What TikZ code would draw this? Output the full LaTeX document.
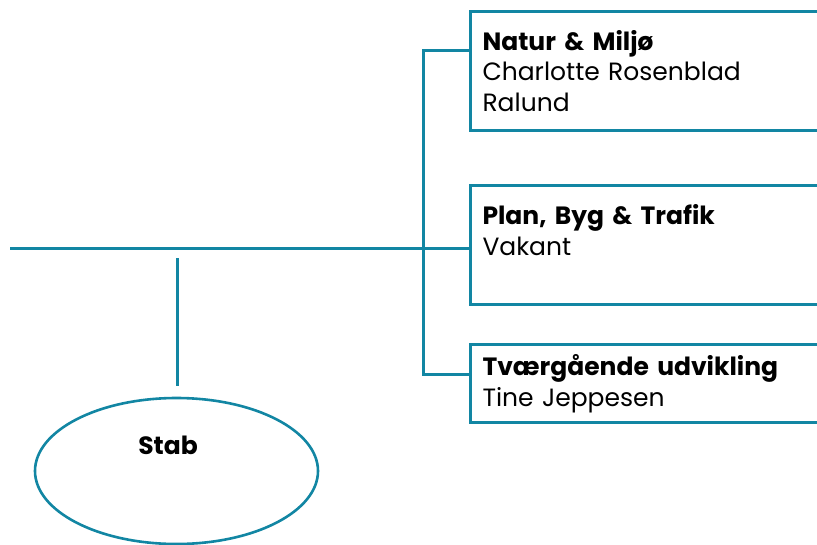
\documentclass[tikz,border=0pt]{standalone}
\usepackage{fontspec}
\setmainfont{Poppins}
\usepackage{color}
\definecolor{myteal}{RGB}{18,134,163}
\usepackage{tikz}
\usetikzlibrary{shapes.geometric,positioning,calc}
\tikzstyle{unitbox}=[draw=myteal,line width=3pt,rectangle,anchor=north west,minimum width=380pt,text width=356pt,inner xsep=12pt,inner ysep=0pt,align=left,font=\fontsize{25}{30.5}\selectfont]
\tikzstyle{stabshape}=[draw=myteal,line width=2.6pt,ellipse,minimum width=283pt,minimum height=146pt,inner sep=0pt]
\tikzstyle{stabtext}=[font=\fontsize{25}{28}\selectfont\bfseries]
\tikzstyle{link}=[draw=myteal,line width=3pt]

\begin{document}
\begin{tikzpicture}[x=1pt,y=-1pt]
\useasboundingbox (0,0) rectangle (817,544);
\clip (0,0) rectangle (817,544);
\draw (469, 10) node [unitbox,minimum height=119pt] (natur) {\textbf{Natur \& Miljø}\\Charlotte Rosenblad\\Ralund};
\draw (469, 184) node [unitbox,minimum height=119pt] (plan) {\textbf{Plan, Byg \& Trafik}\\Vakant\\\mbox{}};
\draw (469, 343) node [unitbox,minimum height=78pt] (tvaer) {\textbf{Tværgående udvikling}\\Tine Jeppesen};
\draw (176.5, 471) node [stabshape] (stab) {};
\draw (168, 445) node [stabtext] (stablabel) {Stab};
\coordinate (hstart) at (10, 248);
\coordinate (j1) at (423, 50);
\coordinate (j3) at (423, 374);
\coordinate (s1) at (177, 258);
\coordinate (s2) at (177, 386);
\draw[link] (hstart) -- (hstart -| plan.west);
\draw[link] (j1 -| natur.west) -- (j1) -- (j3) -- (j3 -| tvaer.west);
\draw[link] (s1) -- (s2);
\end{tikzpicture}
\end{document}
